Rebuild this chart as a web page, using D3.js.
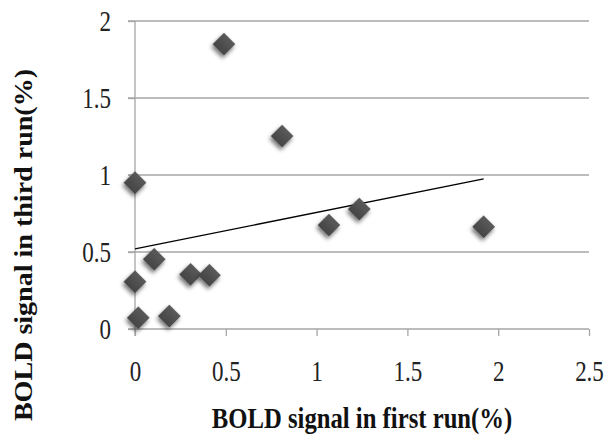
<!DOCTYPE html>
<html><head><meta charset="utf-8">
<script src="https://cdn.jsdelivr.net/npm/d3@7"></script>
<style>body{margin:0;background:#fff}svg{display:block}text{font-family:"Liberation Serif","Times New Roman",serif}</style>
</head><body>
<svg id="c" width="606" height="436"></svg>
<script>
const xValues = [0.49, 0.81, 0.00, 1.068, 1.235, 0.106, 0.00, 0.306, 0.41, 0.018, 0.189, 1.92];
const yValues = [1.85, 1.253, 0.95, 0.675, 0.779, 0.453, 0.307, 0.355, 0.349, 0.073, 0.084, 0.664];
const xTicks = [0, 0.5, 1, 1.5, 2, 2.5];
const yTicks = [0, 0.5, 1, 1.5, 2];
const xTitle = "BOLD signal in first run(%)";
const yTitle = "BOLD signal in third run(%)";

const svg = d3.select("#c");
const x = d3.scaleLinear().domain([0, 2.5]).range([135, 589]);
const y = d3.scaleLinear().domain([0, 2]).range([329, 21]);
const FONT = '"Liberation Serif","Times New Roman",serif';

const defs = svg.append("defs");
const f = defs.append("filter").attr("id","sh").attr("x","-50%").attr("y","-50%").attr("width","200%").attr("height","200%");
f.append("feGaussianBlur").attr("in","SourceAlpha").attr("stdDeviation",2).attr("result","b");
f.append("feOffset").attr("in","b").attr("dx",1).attr("dy",3).attr("result","o");
f.append("feComponentTransfer").attr("in","o").attr("result","o2").append("feFuncA").attr("type","linear").attr("slope",0.55);
const m = f.append("feMerge"); m.append("feMergeNode").attr("in","o2"); m.append("feMergeNode").attr("in","SourceGraphic");
const g = defs.append("linearGradient").attr("id","dg").attr("x1",0).attr("y1",0).attr("x2",0).attr("y2",1);
g.append("stop").attr("offset","0%").attr("stop-color","#5a5a5a");
g.append("stop").attr("offset","100%").attr("stop-color","#454545");

// gridlines
svg.append("g").selectAll("line").data(yTicks.filter(d=>d>0)).join("line")
  .attr("x1",128).attr("x2",589).attr("y1",d=>y(d)).attr("y2",d=>y(d))
  .attr("stroke","#a6a6a6").attr("stroke-width",1.3);

// x axis
const xa = svg.append("g").attr("transform",`translate(0,${y(0)})`)
  .call(d3.axisBottom(x).tickValues(xTicks).tickSize(7).tickFormat(d3.format("")));
xa.attr("font-family", FONT);
xa.select(".domain").attr("d",`M128,0H${x(2.5)}`).attr("stroke","#a6a6a6").attr("stroke-width",1.3);
xa.selectAll(".tick line").attr("stroke","#a6a6a6").attr("stroke-width",1.3);
xa.selectAll("text").attr("y",0).attr("dy",null).attr("dominant-baseline","central")
  .attr("transform","translate(0,43) scale(1,1.25)")
  .style("font-family",FONT).attr("font-size",23).attr("fill","#222");

// y axis
const ya = svg.append("g").attr("transform",`translate(${x(0)},0)`)
  .call(d3.axisLeft(y).tickValues(yTicks).tickSize(7).tickFormat(d3.format("")));
ya.attr("font-family", FONT);
ya.select(".domain").attr("d",`M0,${y(2)}V${y(0)+7}`).attr("stroke","#a6a6a6").attr("stroke-width",1.3);
ya.selectAll(".tick line").attr("stroke","#a6a6a6").attr("stroke-width",1.3);
ya.selectAll("text").attr("x",0).attr("dy",null).attr("dominant-baseline","central")
  .attr("transform","translate(-24,0) scale(1,1.25)")
  .style("font-family",FONT).attr("font-size",23).attr("fill","#222");

// trendline (least squares)
const n = xValues.length;
const mx = d3.mean(xValues), my = d3.mean(yValues);
let sxy=0, sxx=0;
for (let i=0;i<n;i++){ sxy+=(xValues[i]-mx)*(yValues[i]-my); sxx+=(xValues[i]-mx)**2; }
const b = sxy/sxx, a = my - b*mx;
const x0 = d3.min(xValues), x1 = d3.max(xValues);
svg.append("line").attr("x1",x(x0)).attr("y1",y(a+b*x0)).attr("x2",x(x1)).attr("y2",y(a+b*x1))
  .attr("stroke","#000").attr("stroke-width",1.3);

// points
const pts = xValues.map((v,i)=>({x:v,y:yValues[i]}));
svg.append("g").selectAll("path").data(pts).join("path")
  .attr("d", d3.symbol().type(d3.symbolSquare).size(260))
  .attr("transform", d=>`translate(${x(d.x)},${y(d.y)}) rotate(45)`)
  .attr("fill","url(#dg)").attr("filter","url(#sh)");

// titles
svg.append("text").attr("transform","translate(362,428) scale(1,1.15)").attr("text-anchor","middle")
  .style("font-family",FONT).attr("font-weight","bold").attr("font-size",24.7).attr("fill","#111").text(xTitle);
svg.append("text").attr("transform","translate(32,245) rotate(-90) scale(1.1,1)").attr("text-anchor","middle")
  .style("font-family",FONT).attr("font-weight","bold").attr("font-size",25.5).attr("fill","#111").text(yTitle);
</script>
</body></html>
